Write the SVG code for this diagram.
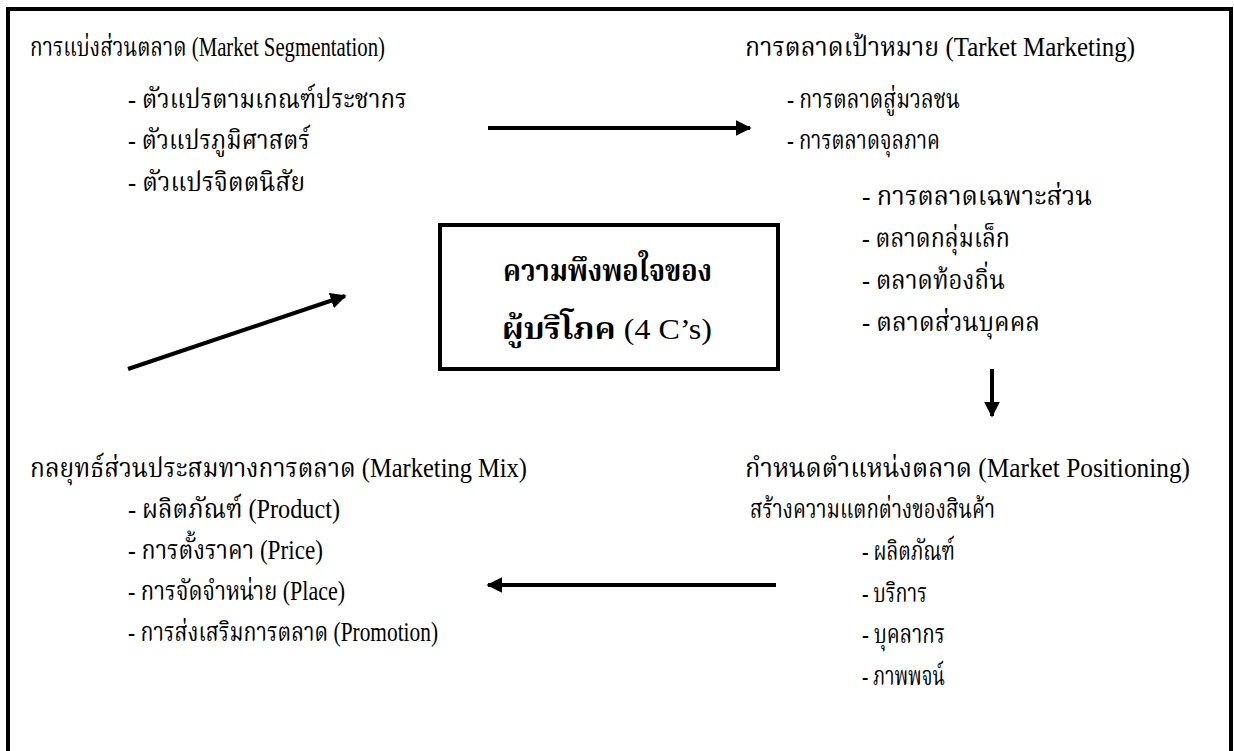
<svg xmlns="http://www.w3.org/2000/svg" width="1234" height="751" viewBox="0 0 1234 751">
<style>
text{font-family:"Liberation Serif","Noto Serif Thai","Noto Sans Thai","Noto Sans",serif;font-size:27px;fill:#000}
.b{font-weight:bold;font-size:30px}
.ln{stroke:#000;stroke-width:4;fill:none}
</style>
<defs>
<marker id="ah" viewBox="0 0 10 10" refX="9" refY="5" markerWidth="4" markerHeight="4" orient="auto" markerUnits="strokeWidth">
<path d="M0,0 L10,5 L0,10 z" fill="#000"/>
</marker>
</defs>
<rect x="0" y="0" width="1234" height="751" fill="#fff"/>
<rect x="8" y="9" width="1223" height="760" fill="none" stroke="#000" stroke-width="4"/>
<g id="segmentation">
<text x="30" y="56" textLength="355" lengthAdjust="spacingAndGlyphs">การแบ่งส่วนตลาด (Market Segmentation)</text>
<text x="128" y="108" textLength="279" lengthAdjust="spacingAndGlyphs">- ตัวแปรตามเกณฑ์ประชากร</text>
<text x="128" y="149" textLength="182" lengthAdjust="spacingAndGlyphs">- ตัวแปรภูมิศาสตร์</text>
<text x="128" y="191" textLength="177" lengthAdjust="spacingAndGlyphs">- ตัวแปรจิตตนิสัย</text>
</g>
<g id="target">
<text x="745" y="56" textLength="390" lengthAdjust="spacingAndGlyphs">การตลาดเป้าหมาย (Tarket Marketing)</text>
<text x="787" y="108" textLength="173" lengthAdjust="spacingAndGlyphs">- การตลาดสู่มวลชน</text>
<text x="787" y="149" textLength="153" lengthAdjust="spacingAndGlyphs">- การตลาดจุลภาค</text>
<text x="862" y="205" textLength="230" lengthAdjust="spacingAndGlyphs">- การตลาดเฉพาะส่วน</text>
<text x="862" y="247" textLength="148" lengthAdjust="spacingAndGlyphs">- ตลาดกลุ่มเล็ก</text>
<text x="862" y="289" textLength="143" lengthAdjust="spacingAndGlyphs">- ตลาดท้องถิ่น</text>
<text x="862" y="331" textLength="178" lengthAdjust="spacingAndGlyphs">- ตลาดส่วนบุคคล</text>
</g>
<g id="center">
<rect x="440" y="225" width="338" height="144" fill="none" stroke="#000" stroke-width="4"/>
<text class="b" x="503" y="281" textLength="209" lengthAdjust="spacingAndGlyphs">ความพึงพอใจของ</text>
<text class="b" x="502" y="339" textLength="210" lengthAdjust="spacingAndGlyphs">ผู้บริโภค <tspan font-weight="normal">(4 C’s)</tspan></text>
</g>
<g id="mix">
<text x="30" y="477" textLength="497" lengthAdjust="spacingAndGlyphs">กลยุทธ์ส่วนประสมทางการตลาด (Marketing Mix)</text>
<text x="128" y="518" textLength="212" lengthAdjust="spacingAndGlyphs">- ผลิตภัณฑ์ (Product)</text>
<text x="128" y="559" textLength="195" lengthAdjust="spacingAndGlyphs">- การตั้งราคา (Price)</text>
<text x="128" y="600" textLength="217" lengthAdjust="spacingAndGlyphs">- การจัดจำหน่าย (Place)</text>
<text x="128" y="641" textLength="310" lengthAdjust="spacingAndGlyphs">- การส่งเสริมการตลาด (Promotion)</text>
</g>
<g id="positioning">
<text x="745" y="477" textLength="445" lengthAdjust="spacingAndGlyphs">กำหนดตำแหน่งตลาด (Market Positioning)</text>
<text x="750" y="518" textLength="245" lengthAdjust="spacingAndGlyphs">สร้างความแตกต่างของสินค้า</text>
<text x="862" y="560" textLength="93" lengthAdjust="spacingAndGlyphs">- ผลิตภัณฑ์</text>
<text x="862" y="602" textLength="65" lengthAdjust="spacingAndGlyphs">- บริการ</text>
<text x="862" y="643" textLength="83" lengthAdjust="spacingAndGlyphs">- บุคลากร</text>
<text x="862" y="685" textLength="83" lengthAdjust="spacingAndGlyphs">- ภาพพจน์</text>
</g>
<g id="connectors">
<line class="ln" x1="488" y1="128" x2="750" y2="128" marker-end="url(#ah)"/>
<line class="ln" x1="128" y1="369" x2="345" y2="296" marker-end="url(#ah)"/>
<line class="ln" x1="992" y1="369" x2="992" y2="416" marker-end="url(#ah)"/>
<line class="ln" x1="776" y1="585" x2="488" y2="585" marker-end="url(#ah)"/>
</g>
</svg>
